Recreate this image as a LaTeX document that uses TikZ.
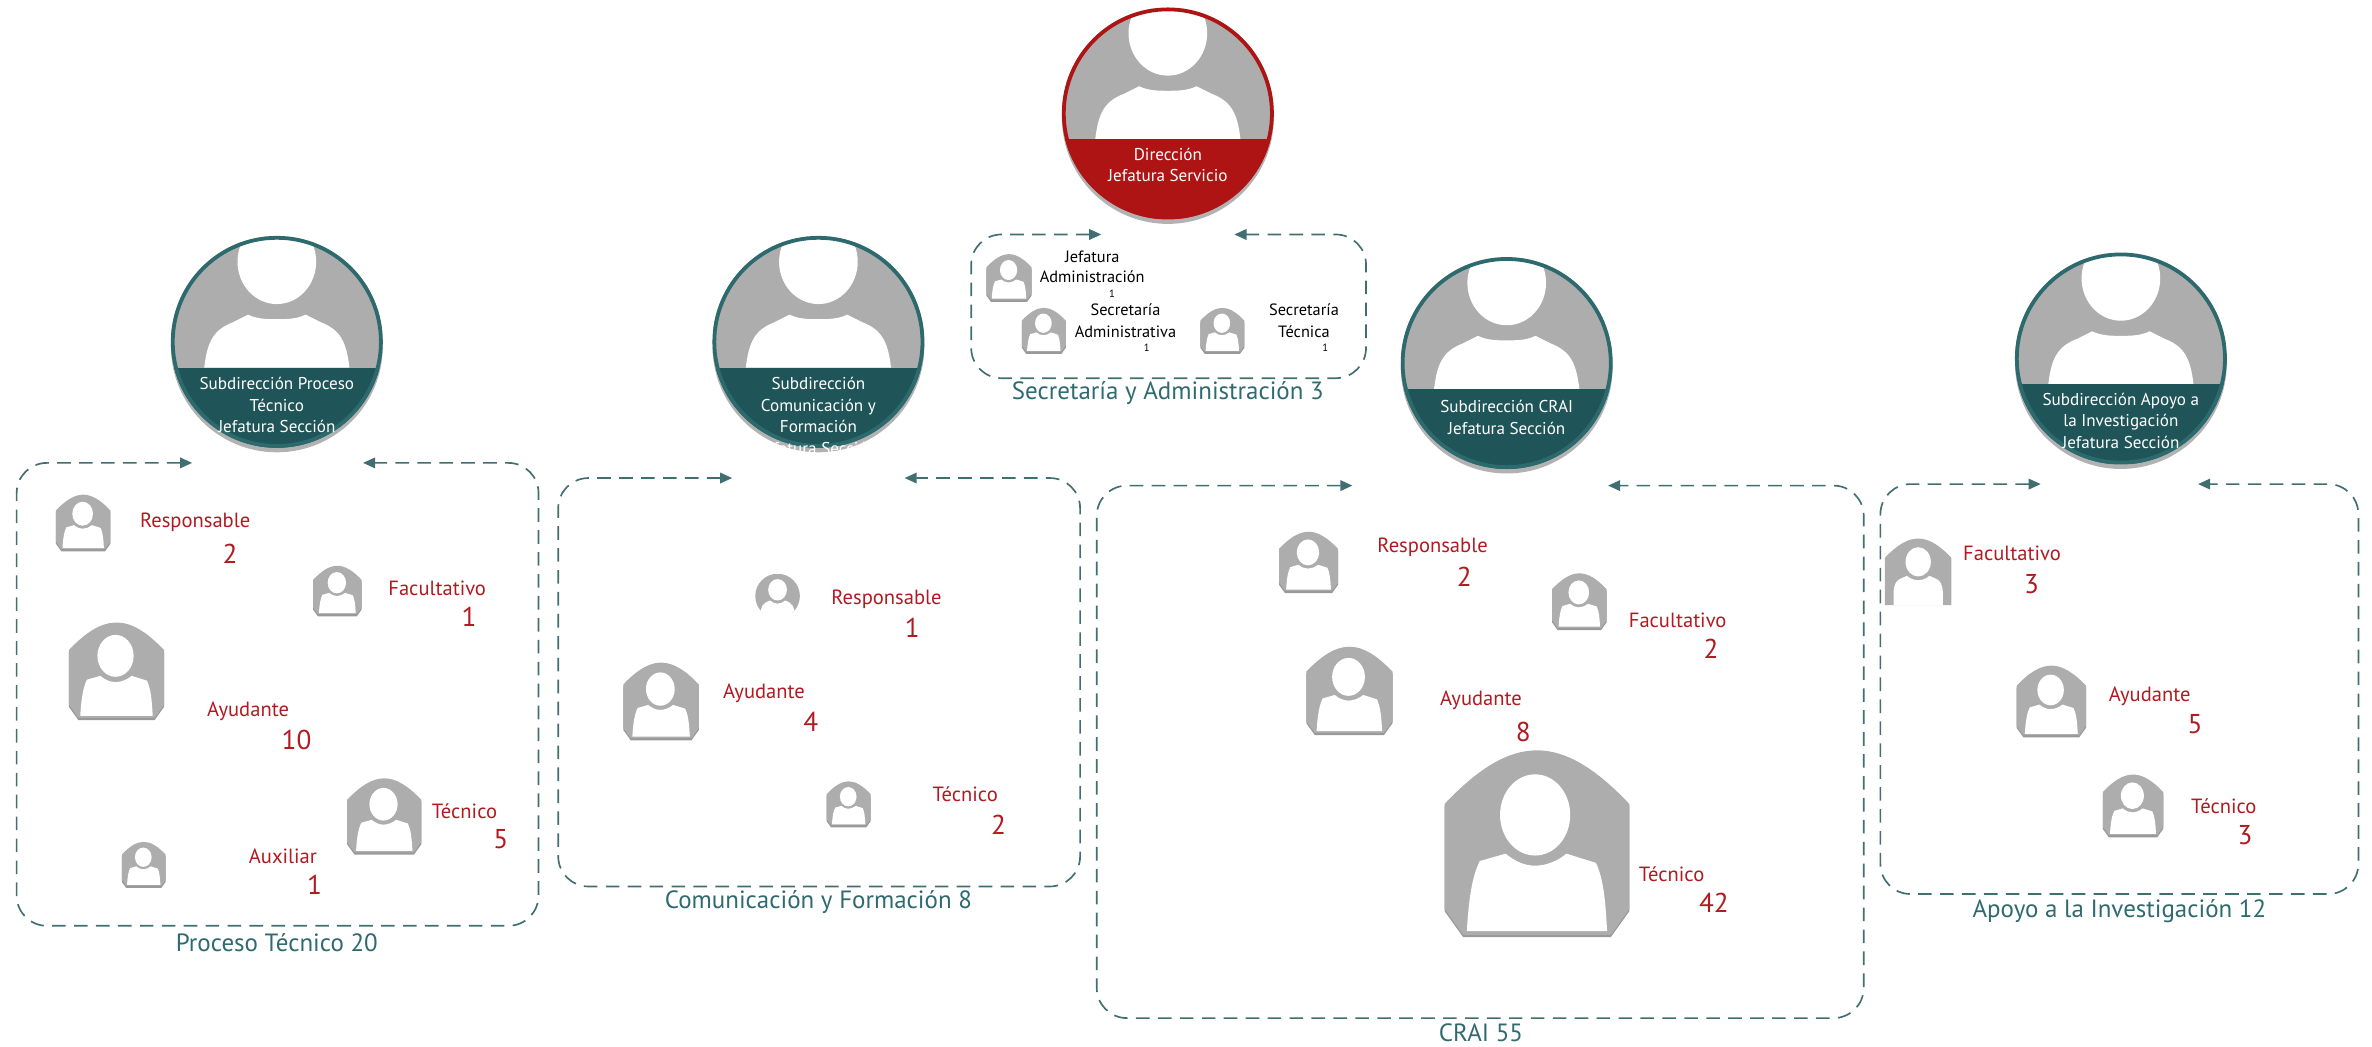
\documentclass[tikz,border=0pt]{standalone}
\usepackage{fontspec}
\setmainfont{PT Sans}
\usetikzlibrary{arrows.meta,shadows}
\definecolor{tealdark}{HTML}{1F5558}
\definecolor{tealdarkring}{HTML}{2C6A6E}
\definecolor{tealcap}{HTML}{2F6A70}
\definecolor{redband}{HTML}{AE1414}
\definecolor{redbandring}{HTML}{AE1414}
\definecolor{redtext}{HTML}{B01A20}
\definecolor{icongray}{HTML}{ADADAD}
\tikzset{
  dashbox/.style={draw=tealdark!85,line width=1.1pt,dash pattern=on 9pt off 5.5pt,rounded corners=20pt,{Triangle[length=8pt,width=7pt]}-{Triangle[length=8pt,width=7pt]}},
  lbl/.style={text=redtext,font=\fontsize{13.6}{15}\selectfont,inner sep=0pt},
  num/.style={text=redtext,font=\fontsize{18}{20}\selectfont,inner sep=0pt},
  captext/.style={text=tealcap,font=\fontsize{16.5}{18}\selectfont,inner sep=0pt},
  smalltext/.style={text=black,font=\fontsize{10.8}{12}\selectfont,inner sep=0pt},
  tinytext/.style={text=black,font=\fontsize{7}{8}\selectfont,inner sep=0pt},
  bandtext/.style={text=white,font=\fontsize{11.3}{14.2}\selectfont,align=center,inner sep=0pt},
  person/.pic={
    \fill[icongray,drop shadow={shadow xshift=0pt,shadow yshift=-1.5pt,opacity=.4,fill=black}] (-50,-21) .. controls (-32,-40) and (-16,-50) .. (0,-50) .. controls (16,-50) and (32,-40) .. (50,-21) -- (50,36) -- (40,50) -- (-40,50) -- (-50,36) -- cycle;
    \fill[white] (-1,-15) ellipse (19 and 22);
    \fill[white] (-38,48) .. controls (-37,30) and (-35,18) .. (-31,10) -- (-17,6) .. controls (-12,10) and (-7,12.5) .. (-1,12.5) .. controls (5,12.5) and (11,10) .. (16,6) -- (32,11) .. controls (36,20) and (37,30) .. (38,48) -- cycle;
  },
  personopen/.pic={
    \fill[icongray] (-50,-21) .. controls (-32,-40) and (-16,-50) .. (0,-50) .. controls (16,-50) and (32,-40) .. (50,-21) -- (50,50) -- (-50,50) -- cycle;
    \fill[white] (0,-15) ellipse (19 and 22);
    \fill[white] (-37,50.5) -- (-37,30) .. controls (-36,18) and (-33,14) .. (-28,11) -- (-17,6) .. controls (-12,10) and (-7,12.5) .. (0,12.5) .. controls (7,12.5) and (12,10) .. (17,6) -- (28,11) .. controls (33,14) and (36,18) .. (37,30) -- (37,50.5) -- cycle;
  },
  personround/.pic={
    \begin{scope}
      \clip (-50,-50) rectangle (50,38);
      \clip (0,0) circle (50);
      \fill[icongray] (-50,-50) rectangle (50,38);
      \fill[white] (0,-14) ellipse (21 and 24);
      \fill[white] (-38,38) .. controls (-37,24) and (-33,18) .. (-26,14) -- (-17,10) .. controls (-11,15) and (-6,17) .. (0,17) .. controls (6,17) and (11,15) .. (17,10) -- (26,14) .. controls (33,18) and (37,24) .. (38,38) -- cycle;
    \end{scope}
  },
  bigperson/.pic={
    \fill[black,opacity=.3] (0,3) circle (70);
    \begin{scope}
      \clip (0,0) circle (70);
      \fill[icongray] (-70,-70) rectangle (70,17);
      \fill[white] (0,-53) ellipse (26 and 28);
      \fill[white] (-48,17) .. controls (-46,0) and (-42,-8) .. (-29,-13) -- (-19,-18) .. controls (-13,-15) and (-6,-15) .. (0,-15) .. controls (6,-15) and (13,-15) .. (19,-18) -- (29,-13) .. controls (42,-8) and (46,0) .. (48,17) -- cycle;
      \fill[#1] (-70,17) rectangle (70,70);
    \end{scope}
    \draw[#1ring,line width=2.5pt] (0,0) circle (68.8);
  }
}
\begin{document}
\begin{tikzpicture}[x=1pt,y=-1pt]
\useasboundingbox (0,0) rectangle (1568,692.1);

\pic at (772,75) {bigperson=redband};
\pic at (183,226) {bigperson=tealdark};
\pic at (541,226) {bigperson=tealdark};
\pic at (996,240) {bigperson=tealdark};
\pic at (1402,237) {bigperson=tealdark};

\node[bandtext] (dir) at (772,109) {Dirección\\Jefatura Servicio};
\node[bandtext] (sub1) at (183,268) {Subdirección Proceso\\Técnico\\Jefatura Sección};
\node[bandtext] (sub2) at (541,275) {Subdirección\\Comunicación y\\Formación\\Jefatura Sección};
\node[bandtext] (sub3) at (996,276) {Subdirección CRAI\\Jefatura Sección};
\node[bandtext] (sub4) at (1402,278) {Subdirección Apoyo a\\la  Investigación\\Jefatura Sección};

\coordinate (b0l) at (728,155);
\coordinate (b0r) at (816,155);
\coordinate (b0sw) at (642,250);
\coordinate (b0ne) at (903,155);
\draw[dashbox] (b0l) -| (b0sw) -| (b0ne) -- (b0r);

\coordinate (b1l) at (127,306);
\coordinate (b1r) at (240,306);
\coordinate (b1sw) at (11,612);
\coordinate (b1ne) at (356,306);
\draw[dashbox] (b1l) -| (b1sw) -| (b1ne) -- (b1r);

\coordinate (b2l) at (484,316);
\coordinate (b2r) at (598,316);
\coordinate (b2sw) at (369,586);
\coordinate (b2ne) at (714,316);
\draw[dashbox] (b2l) -| (b2sw) -| (b2ne) -- (b2r);

\coordinate (b3l) at (894,321);
\coordinate (b3r) at (1063,321);
\coordinate (b3sw) at (725,673);
\coordinate (b3ne) at (1232,321);
\draw[dashbox] (b3l) -| (b3sw) -| (b3ne) -- (b3r);

\coordinate (b4l) at (1349,320);
\coordinate (b4r) at (1453,320);
\coordinate (b4sw) at (1243,591);
\coordinate (b4ne) at (1559,320);
\draw[dashbox] (b4l) -| (b4sw) -| (b4ne) -- (b4r);

\pic[scale=.30] at (667,183) {person};
\pic[scale=.29] at (690,218) {person};
\pic[scale=.29] at (808,218) {person};
\node[smalltext] (s1a) at (722,170) {Jefatura};
\node[smalltext] (s1b) at (722,183) {Administración};
\node[tinytext] (s1c) at (735,194) {1};
\node[smalltext] (s2a) at (744,205) {Secretaría};
\node[smalltext] (s2b) at (744,219) {Administrativa};
\node[tinytext] (s2c) at (758,230) {1};
\node[smalltext] (s3a) at (862,205) {Secretaría};
\node[smalltext] (s3b) at (862,219) {Técnica};
\node[tinytext] (s3c) at (876,230) {1};
\node[captext] (cap0) at (772,260) {Secretaría y Administración 3};

\pic[scale=.36] at (55,345) {person};
\pic[scale=.32] at (223,390) {person};
\pic[scale=.63] at (77,443) {person};
\pic[scale=.49] at (254,539) {person};
\pic[scale=.29] at (95,571) {person};
\node[lbl] (r1) at (129,345) {Responsable};
\node[num] (r1n) at (152,366) {2};
\node[lbl] (f1) at (289,389) {Facultativo};
\node[num] (f1n) at (310,408) {1};
\node[lbl] (a1) at (164,470) {Ayudante};
\node[num] (a1n) at (196,489) {10};
\node[lbl] (t1) at (307,536) {Técnico};
\node[num] (t1n) at (331,555) {5};
\node[lbl] (x1) at (187,566) {Auxiliar};
\node[num] (x1n) at (208,585) {1};
\node[captext] (cap1) at (183,623) {Proceso Técnico 20};

\pic[scale=.295] at (514,394) {personround};
\pic[scale=.50] at (437,463) {person};
\pic[scale=.29] at (561,531) {person};
\node[lbl] (r2) at (586,396) {Responsable};
\node[num] (r2n) at (603,415) {1};
\node[lbl] (a2) at (505,458) {Ayudante};
\node[num] (a2n) at (536,477) {4};
\node[lbl] (t2) at (638,525) {Técnico};
\node[num] (t2n) at (660,545) {2};
\node[captext] (cap2) at (541,596) {Comunicación y Formación 8};

\pic[scale=.39] at (865,371) {person};
\pic[scale=.36] at (1044,397) {person};
\pic[scale=.57] at (892,456) {person};
\pic[scale=1.22] at (1016,557) {person};
\node[lbl] (r3) at (947,362) {Responsable};
\node[num] (r3n) at (968,381) {2};
\node[lbl] (f3) at (1109,410) {Facultativo};
\node[num] (f3n) at (1131,429) {2};
\node[lbl] (a3) at (979,463) {Ayudante};
\node[num] (a3n) at (1007,484) {8};
\node[lbl] (t3) at (1105,578) {Técnico};
\node[num] (t3n) at (1133,597) {42};
\node[captext] (cap3) at (979,683) {CRAI 55};

\pic[scale=.44] at (1268,378) {personopen};
\pic[scale=.46] at (1356,463) {person};
\pic[scale=.40] at (1410,532) {person};
\node[lbl] (f4) at (1330,366) {Facultativo};
\node[num] (f4n) at (1343,386) {3};
\node[lbl] (a4) at (1421,460) {Ayudante};
\node[num] (a4n) at (1451,479) {5};
\node[lbl] (t4) at (1470,533) {Técnico};
\node[num] (t4n) at (1484,552) {3};
\node[captext] (cap4) at (1401,602) {Apoyo a la Investigación 12};
\end{tikzpicture}
\end{document}
